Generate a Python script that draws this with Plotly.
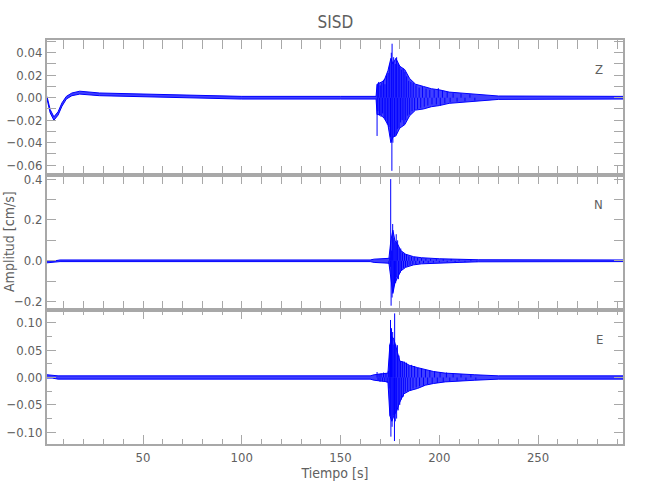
import plotly.graph_objects as go

# ---------------- data ----------------
# Envelope knots: time, upper, lower
z_env_t  = [1.4, 3.0, 4.9, 7.0, 9.0, 11.2, 14, 18, 28, 53, 79, 100, 150, 168.0, 168.5, 170, 172, 174, 175.5, 176.5, 178, 180, 182.5, 185, 188, 192, 196, 200, 205, 212, 220, 230, 293]
z_env_hi = [0.001, -0.0105, -0.017, -0.0125, -0.0045, 0.0012, 0.0042, 0.0058, 0.0042, 0.0032, 0.002, 0.0012, 0.0012, 0.0012, 0.012, 0.013, 0.015, 0.024, 0.035, 0.03, 0.035, 0.028, 0.025, 0.017, 0.012, 0.010, 0.008, 0.007, 0.005, 0.004, 0.003, 0.0015, 0.0012]
z_env_lo = [-0.001, -0.0135, -0.020, -0.0155, -0.0075, -0.0012, 0.0018, 0.0032, 0.0018, 0.0008, -0.0004, -0.0012, -0.0012, -0.0012, -0.015, -0.015, -0.018, -0.024, -0.04, -0.035, -0.034, -0.027, -0.024, -0.016, -0.011, -0.010, -0.008, -0.007, -0.005, -0.004, -0.003, -0.0015, -0.0012]

z_pk_t = [168.5, 168.6, 168.9, 169.3, 169.7, 170.1, 170.5, 170.9, 171.3, 171.7, 172.1, 172.5, 172.9, 173.3, 173.7, 174.1, 174.5, 174.9, 175.3, 175.7, 176.0, 176.1, 176.5, 176.9, 177.3, 177.7, 178.1, 178.4, 178.8, 179.2, 179.6, 180.0, 180.4, 180.8, 181.2, 181.7, 182.1, 182.6, 183.0, 183.5, 184.0, 184.5, 185.0, 185.6, 186.2, 186.8, 187.5, 188.2, 189.0, 189.8, 190.6, 191.5, 192.4, 193.3, 194.2, 195.2, 196.3, 197.4, 198.5, 199.5, 200.5, 201.6, 202.8, 204, 205.5, 207, 209, 211, 213, 215.5, 218]
z_pk_v = [-0.034, 0.012, -0.012, 0.014, -0.016, 0.011, -0.017, 0.013, -0.014, 0.016, -0.018, 0.012, -0.02, 0.02, -0.024, 0.022, -0.026, 0.03, -0.035, 0.04, -0.065, 0.048, -0.04, 0.036, -0.034, 0.03, -0.033, 0.036, -0.028, 0.03, -0.027, 0.028, -0.022, 0.025, -0.02, 0.026, -0.024, 0.023, -0.02, 0.019, -0.016, 0.015, -0.015, 0.014, -0.012, 0.013, -0.011, 0.011, -0.01, 0.009, -0.009, 0.01, -0.008, 0.008, -0.007, 0.007, -0.006, 0.007, -0.006, 0.0085, -0.007, 0.006, -0.005, 0.005, -0.004, 0.004, -0.0035, 0.0035, -0.003, 0.003, -0.0025]

n_env_t  = [1.4, 5, 8, 165, 167, 174.5, 175.5, 176.5, 177.5, 179, 180.5, 183, 187, 191, 200, 210, 220, 293]
n_env_hi = [-0.002, -0.001, 0.004, 0.004, 0.008, 0.012, 0.1, 0.15, 0.1, 0.08, 0.05, 0.032, 0.02, 0.015, 0.01, 0.008, 0.005, 0.004]
n_env_lo = [-0.010, -0.008, -0.004, -0.004, -0.008, -0.012, -0.1, -0.16, -0.11, -0.08, -0.05, -0.032, -0.02, -0.015, -0.01, -0.008, -0.005, -0.004]

n_pk_t = [174.5, 174.9, 175.2, 175.4, 175.6, 175.9, 176.1, 176.4, 176.7, 177.0, 177.3, 177.6, 177.9, 178.2, 178.5, 178.9, 179.3, 179.7, 180.1, 180.5, 180.9, 181.4, 181.9, 182.4, 182.9, 183.4, 184, 184.6, 185.2, 185.9, 186.6, 187.3, 188.1, 189, 190, 191, 192, 193.2, 194.4, 195.6, 197, 198.5, 200, 202, 204, 206, 208, 210, 213, 216, 219]
n_pk_v = [-0.015, 0.015, -0.03, 0.40, -0.22, 0.05, -0.18, 0.18, -0.15, 0.11, -0.12, 0.09, -0.11, 0.13, -0.08, 0.10, -0.09, 0.06, -0.06, 0.06, -0.045, 0.04, -0.035, 0.035, -0.03, 0.03, -0.025, 0.022, -0.02, 0.02, -0.018, 0.018, -0.016, 0.015, -0.013, 0.013, -0.011, 0.01, -0.01, 0.009, -0.009, 0.008, -0.008, 0.008, -0.006, 0.009, -0.006, 0.007, -0.005, 0.006, -0.004]

e_env_t  = [1.4, 4, 7, 165, 167, 174, 175, 176, 177, 178.5, 180, 182, 185, 189, 193, 197, 203, 210, 218, 230, 293]
e_env_hi = [0.005, 0.004, 0.003, 0.003, 0.005, 0.008, 0.06, 0.075, 0.07, 0.05, 0.03, 0.028, 0.022, 0.018, 0.015, 0.011, 0.008, 0.006, 0.005, 0.003, 0.003]
e_env_lo = [-0.001, -0.001, -0.003, -0.003, -0.005, -0.008, -0.07, -0.08, -0.07, -0.06, -0.045, -0.03, -0.024, -0.02, -0.014, -0.011, -0.008, -0.006, -0.005, -0.003, -0.003]

e_pk_t = [168.5, 169, 169.5, 170, 170.5, 171.2, 171.8, 172.4, 173, 173.6, 174.2, 174.6, 174.9, 175.1, 175.3, 175.5, 175.8, 176.1, 176.4, 176.7, 177.0, 177.3, 177.4, 177.7, 178.0, 178.4, 178.8, 179.2, 179.6, 180, 180.4, 180.8, 181.3, 181.8, 182.3, 182.8, 183.4, 184, 184.6, 185.3, 186, 186.7, 187.5, 188.3, 189.1, 190, 191, 192, 193, 194.1, 195.2, 196.4, 197.6, 199, 200.4, 202, 203.6, 205.3, 207, 209, 211, 213.5, 216, 218.5]
e_pk_v = [0.01, -0.006, 0.007, -0.008, 0.008, -0.007, 0.009, -0.008, 0.008, -0.01, 0.012, -0.02, 0.06, -0.07, 0.105, -0.108, 0.09, -0.09, 0.083, -0.069, 0.06, -0.116, 0.117, -0.08, 0.06, -0.075, 0.059, -0.06, 0.04, -0.05, 0.03, -0.04, 0.029, -0.035, 0.029, -0.026, 0.027, -0.025, 0.022, -0.024, 0.023, -0.02, 0.021, -0.018, 0.018, -0.016, 0.017, -0.015, 0.014, -0.012, 0.013, -0.011, 0.011, -0.01, 0.01, -0.008, 0.009, -0.007, 0.007, -0.006, 0.006, -0.005, 0.005, -0.004]

components = ["Z", "N", "E"]
x_ticks = [50, 100, 150, 200, 250]

# ---------------- figure ----------------
BLUE = "#0000ff"
FONT = "Liberation Sans Narrow, DejaVu Sans Condensed, sans-serif"
AX = "#a8a8a8"
TXT = "#606060"

fig = go.Figure()
series = [
    (z_env_t, z_env_hi, z_env_lo, z_pk_t, z_pk_v, "y"),
    (n_env_t, n_env_hi, n_env_lo, n_pk_t, n_pk_v, "y2"),
    (e_env_t, e_env_hi, e_env_lo, e_pk_t, e_pk_v, "y3"),
]
for et, hi, lo, pt, pv, ya in series:
    fig.add_trace(go.Scatter(x=et, y=lo, mode="lines", line=dict(color=BLUE, width=1),
                             yaxis=ya, xaxis="x", showlegend=False, hoverinfo="skip"))
    fig.add_trace(go.Scatter(x=et, y=hi, mode="lines", line=dict(color=BLUE, width=1),
                             fill="tonexty", fillcolor="rgba(0,0,255,0.75)",
                             yaxis=ya, xaxis="x", showlegend=False, hoverinfo="skip"))
    # each read peak drawn as a vertical stroke from the baseline
    sx, sy = [], []
    for t, v in zip(pt, pv):
        sx += [t, t, None]
        sy += [0, v, None]
    fig.add_trace(go.Scatter(x=sx, y=sy, mode="lines", line=dict(color=BLUE, width=1),
                             yaxis=ya, xaxis="x", showlegend=False, hoverinfo="skip"))

def yax(dom, rng, dtick, mdtick, fmt):
    return dict(domain=dom, range=rng, dtick=dtick, tick0=0, tickformat=fmt, automargin=False,
                showgrid=False, zeroline=False, showline=True, linecolor=AX, linewidth=2,
                mirror="allticks", ticks="inside", ticklen=9, tickwidth=1.3, tickcolor=AX,
                minor=dict(dtick=mdtick, tick0=0, ticks="inside", ticklen=5, tickcolor=AX, tickwidth=1.3),
                tickfont=dict(family=FONT, size=13, color=TXT), anchor="x")

xcommon = dict(range=[1.4, 293], showgrid=False, zeroline=False, showline=True, linecolor=AX,
               linewidth=2, mirror="allticks", ticks="inside", ticklen=9, tickwidth=1.3, tickcolor=AX,
               tickvals=x_ticks, automargin=False,
               minor=dict(dtick=10, tick0=0, ticks="inside", ticklen=5, tickcolor=AX, tickwidth=1.3))

d1 = 134 / 404
d2 = 269 / 404

fig.update_layout(
    width=650, height=500,
    margin=dict(l=47, r=27, t=40, b=56),
    paper_bgcolor="white", plot_bgcolor="white",
    title=dict(text="SISD", x=0.516, xanchor="center", y=0.955, yanchor="middle",
               font=dict(family=FONT, size=17, color=TXT)),
    xaxis=dict(**xcommon, anchor="y3", title=dict(text="Tiempo [s]", standoff=2,
               font=dict(family=FONT, size=14, color=TXT)),
               tickfont=dict(family=FONT, size=13, color=TXT)),
    xaxis2=dict(**xcommon, anchor="y2", overlaying="x", showticklabels=False),
    xaxis3=dict(**xcommon, anchor="y", overlaying="x", showticklabels=False),
    yaxis=yax([d2, 1], [-0.0687, 0.0513], 0.02, 0.01, ".2f"),
    yaxis2=yax([d1, d2], [-0.241, 0.42], 0.2, 0.1, ".1f"),
    yaxis3=yax([0, d1], [-0.1214, 0.1232], 0.05, 0.025, ".2f"),
    showlegend=False,
)

# empty traces so the extra x axes draw their frames
for xa, ya in [("x2", "y2"), ("x3", "y")]:
    fig.add_trace(go.Scatter(x=[None], y=[None], xaxis=xa, yaxis=ya, showlegend=False))

for lab, yref in zip(components, ["y domain", "y2 domain", "y3 domain"]):
    fig.add_annotation(text=lab, x=0.968, y=0.85, xref="x domain", yref=yref,
                       showarrow=False, font=dict(family=FONT, size=13, color=TXT))
fig.add_annotation(text="Amplitud [cm/s]", textangle=-90, x=0, y=0.5, xref="paper", yref="paper",
                   xanchor="center", yanchor="middle", xshift=-38, showarrow=False,
                   font=dict(family=FONT, size=14, color=TXT))

fig.write_html("out.html", config={"displayModeBar": False},
               post_script="document.body.style.margin='0';")
